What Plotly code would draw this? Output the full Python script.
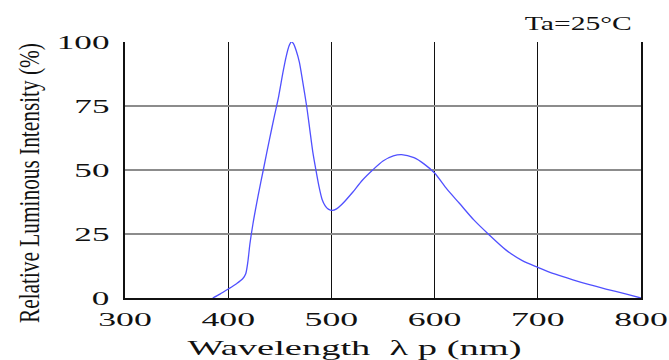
import plotly.graph_objects as go

# Data
wavelength = [385, 392, 400, 408, 414, 417, 419, 421, 424, 429, 434, 440, 445, 449,
              453, 456, 459, 461, 463, 466, 469, 472, 476, 479, 482, 485, 488, 491,
              494, 497, 501, 505, 510, 520, 530, 540, 550, 560, 568, 580, 590, 600,
              612, 624, 638, 652, 669, 685, 700, 717, 734, 750, 766, 785, 800]
intensity = [0, 1.5, 3.5, 5.6, 7.5, 9.5, 14, 21, 29, 40, 50, 62, 71.5, 79,
             88, 94, 98.5, 100, 99.5, 96.5, 92, 85, 75, 66, 57, 50, 43.5, 38.5,
             36, 34.7, 34.2, 34.8, 36.5, 41, 46, 50, 53.5, 55.5, 56, 54.8, 52.3, 48.8,
             42.5, 37, 30.5, 25, 18.8, 14.6, 12, 9.3, 7.1, 5.2, 3.5, 1.6, 0]

x_ticks = [300, 400, 500, 600, 700, 800]
x_ticktext = ["300", "400", "500", "600", "700", "800"]
y_ticks = [0, 25, 50, 75, 100]
y_ticktext = ["0", "25", "50", "75", "100"]

x_title = "Wavelength  λ p (nm)"
y_title = "Relative Luminous Intensity (%)"
note_text = "Ta=25°C"

FONT = "Liberation Serif, Times New Roman, serif"

fig = go.Figure()
fig.add_trace(go.Scatter(
    x=wavelength, y=intensity, mode="lines",
    line=dict(color="rgb(80,80,255)", width=1.3, shape="spline", smoothing=0.7),
    hoverinfo="skip", showlegend=False,
))

fig.update_layout(
    width=669, height=360,
    margin=dict(l=125, r=28, t=42, b=62),
    paper_bgcolor="white", plot_bgcolor="white",
    font=dict(family=FONT, color="#111111"),
    xaxis=dict(
        range=[300, 800], tickmode="array", tickvals=x_ticks, ticktext=x_ticktext,
        showgrid=True, gridcolor="#111111", gridwidth=1.3,
        showline=True, linecolor="#111111", linewidth=1.5,
        zeroline=False, ticks="", ticklabelstandoff=3,
        tickfont=dict(size=19, family=FONT, color="#111111"),
        fixedrange=True,
    ),
    yaxis=dict(
        range=[0, 100], tickmode="array", tickvals=y_ticks, ticktext=y_ticktext,
        showgrid=True, gridcolor="#8c8c8c", gridwidth=1.6,
        showline=True, linecolor="#111111", linewidth=1.5, mirror=True,
        zeroline=False, ticks="", ticklabelstandoff=10,
        tickfont=dict(size=19, family=FONT, color="#111111"),
        fixedrange=True,
    ),
    annotations=[
        dict(text=x_title, xref="paper", yref="paper", x=0.4457, y=-0.194,
             xanchor="center", yanchor="middle", showarrow=False,
             font=dict(size=22, family=FONT, color="#111111")),
        dict(text=y_title, xref="paper", yref="paper", x=-0.186, y=0.449,
             xanchor="center", yanchor="middle", showarrow=False, textangle=-90,
             font=dict(size=30, family=FONT, color="#111111")),
        dict(text=note_text, xref="paper", yref="paper", x=0.879, y=1.072,
             xanchor="center", yanchor="middle", showarrow=False,
             font=dict(size=19, family=FONT, color="#111111")),
    ],
)

post = """
document.body.style.margin = '0';
document.body.style.overflow = 'hidden';
var gd = document.getElementById('{plot_id}');
function stretchFactor(sel, f) {
  gd.querySelectorAll(sel).forEach(function(t) {
    var w = t.getComputedTextLength();
    t.setAttribute('lengthAdjust', 'spacingAndGlyphs');
    t.setAttribute('textLength', (w * f).toFixed(1));
  });
}
stretchFactor('.xtick text', 1.88);
stretchFactor('.ytick text', 1.85);
var targets = [334, 280, 107];
gd.querySelectorAll('.annotation').forEach(function(a, i) {
  if (i >= targets.length) return;
  var t = a.querySelector('.annotation-text');
  var r = a.querySelector('rect.bg');
  if (!t) return;
  t.setAttribute('lengthAdjust', 'spacingAndGlyphs');
  t.setAttribute('textLength', targets[i]);
  if (r) {
    var w = parseFloat(r.getAttribute('width'));
    var x = parseFloat(r.getAttribute('x'));
    if (!isNaN(w) && !isNaN(x)) {
      r.setAttribute('x', (x + (w - targets[i]) / 2).toFixed(1));
      r.setAttribute('width', targets[i]);
    }
  }
});
"""

fig.write_html("out.html", post_script=post, config={"displayModeBar": False})
